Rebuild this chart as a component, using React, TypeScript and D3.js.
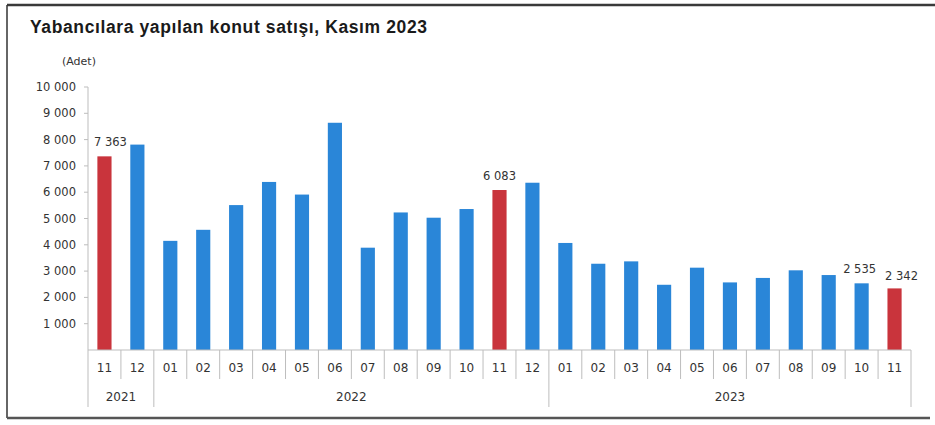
import { useEffect, useRef } from "react";
import * as d3 from "d3";

// monthly foreign house sales, 2021-11 .. 2023-11
const months = [
  "11", "12",
  "01", "02", "03", "04", "05", "06", "07", "08", "09", "10", "11", "12",
  "01", "02", "03", "04", "05", "06", "07", "08", "09", "10", "11",
];
const years = ["2021", "2021", ...Array(12).fill("2022"), ...Array(11).fill("2023")];
const sales = [
  7363, 7810,
  4150, 4570, 5510, 6390, 5910, 8640, 3890, 5230, 5030, 5360, 6083, 6360,
  4070, 3280, 3370, 2480, 3130, 2570, 2740, 3030, 2850, 2535, 2342,
];
// Kasım bars are red and carry a value label
const highlighted = [0, 12, 24];
const labelled = [0, 12, 23, 24];
const yTicks = [1000, 2000, 3000, 4000, 5000, 6000, 7000, 8000, 9000, 10000];
const yearGroups = ["2021", "2022", "2023"];

const width = 935;
const height = 425;
const left = 88;
const right = 911;
const top = 87;
const bottom = 350;

const fmt = (v: number) => d3.format(",")(v).replace(/,/g, " ");

function App() {
  const svgRef = useRef<SVGSVGElement | null>(null);

  useEffect(() => {
    const svg = d3.select(svgRef.current);
    svg.selectAll("*").remove();

    const idx = months.map((_, i) => i);
    const x = d3
      .scaleBand<number>()
      .domain(idx)
      .range([left, right])
      .paddingInner(0.57)
      .paddingOuter(0.285);
    const y = d3.scaleLinear().domain([0, 10000]).range([bottom, top]);
    const step = x.step();
    const x0 = (i: number) => left + i * step;

    svg.append("rect").attr("width", width).attr("height", height).attr("fill", "#fff");

    // frame
    svg.append("line").attr("x1", 7).attr("x2", width).attr("y1", 5).attr("y2", 5)
      .attr("stroke", "#3a3a3a").attr("stroke-width", 2.5);
    svg.append("line").attr("x1", 7).attr("x2", 7).attr("y1", 5).attr("y2", 418)
      .attr("stroke", "#333").attr("stroke-width", 1.5);
    svg.append("line").attr("x1", 7).attr("x2", 930).attr("y1", 418).attr("y2", 418)
      .attr("stroke", "#555").attr("stroke-width", 2.5);

    svg.append("text").attr("x", 30).attr("y", 33)
      .attr("font-family", "Liberation Sans, Arial, sans-serif")
      .attr("font-weight", "bold").attr("font-size", 17.5).attr("fill", "#1a1a1a")
      .attr("textLength", 397).attr("lengthAdjust", "spacing")
      .text("Yabancılara yapılan konut satışı, Kasım 2023");
    svg.append("text").attr("x", 62).attr("y", 65)
      .attr("font-family", "DejaVu Sans, sans-serif")
      .attr("font-size", 11).attr("fill", "#333")
      .text("(Adet)");

    // y axis
    svg.append("line").attr("x1", left).attr("x2", left).attr("y1", top).attr("y2", bottom)
      .attr("stroke", "#bdbdbd");
    const yt = svg.append("g");
    yt.selectAll("line").data(yTicks).join("line")
      .attr("x1", left - 4).attr("x2", left)
      .attr("y1", (d) => y(d)).attr("y2", (d) => y(d))
      .attr("stroke", "#bdbdbd");
    yt.selectAll("text").data(yTicks).join("text")
      .attr("x", 76).attr("y", (d) => y(d)).attr("dy", "0.35em")
      .attr("text-anchor", "end")
      .attr("font-family", "DejaVu Sans, sans-serif")
      .attr("font-size", 11.5).attr("fill", "#333")
      .text((d) => fmt(d));

    // bars
    svg.append("g").selectAll("rect").data(sales).join("rect")
      .attr("x", (_, i) => x(i)!)
      .attr("width", x.bandwidth())
      .attr("y", (d) => y(d))
      .attr("height", (d) => bottom - y(d))
      .attr("fill", (_, i) => (highlighted.includes(i) ? "#c9343c" : "#2a86d8"));

    // value labels
    svg.append("g").selectAll("text").data(labelled).join("text")
      .attr("x", (i) => x(i)! + x.bandwidth() / 2 + (i === 0 ? 6 : i === 24 ? 7 : i === 23 ? -2 : 0))
      .attr("y", (i) => y(sales[i]) - (i === 24 ? 8 : 10))
      .attr("text-anchor", "middle")
      .attr("font-family", "DejaVu Sans, sans-serif")
      .attr("font-size", 11.5).attr("fill", "#333")
      .text((i) => fmt(sales[i]));

    // category axis
    svg.append("line").attr("x1", left).attr("x2", right).attr("y1", bottom).attr("y2", bottom)
      .attr("stroke", "#bdbdbd");
    const seps = d3.range(months.length + 1);
    svg.append("g").selectAll("line").data(seps).join("line")
      .attr("x1", (i) => x0(i)).attr("x2", (i) => x0(i))
      .attr("y1", bottom)
      .attr("y2", (i) => (i === 0 || i === months.length || years[i] !== years[i - 1] ? 407 : 379))
      .attr("stroke", "#bdbdbd");
    svg.append("g").selectAll("text").data(months).join("text")
      .attr("x", (_, i) => x(i)! + x.bandwidth() / 2)
      .attr("y", 368).attr("dy", "0.35em")
      .attr("text-anchor", "middle")
      .attr("font-family", "DejaVu Sans, sans-serif")
      .attr("font-size", 12).attr("fill", "#333")
      .text((d) => d);
    svg.append("g").selectAll("text").data(yearGroups).join("text")
      .attr("x", (g) => {
        const first = years.indexOf(g);
        const last = years.lastIndexOf(g);
        return (x0(first) + x0(last + 1)) / 2;
      })
      .attr("y", 397).attr("dy", "0.35em")
      .attr("text-anchor", "middle")
      .attr("font-family", "DejaVu Sans, sans-serif")
      .attr("font-size", 12).attr("fill", "#333")
      .text((d) => d);
  }, []);

  return (
    <svg
      ref={svgRef}
      width={width}
      height={height}
      style={{ position: "absolute", left: 0, top: 0 }}
    ></svg>
  );
}

export default App;
